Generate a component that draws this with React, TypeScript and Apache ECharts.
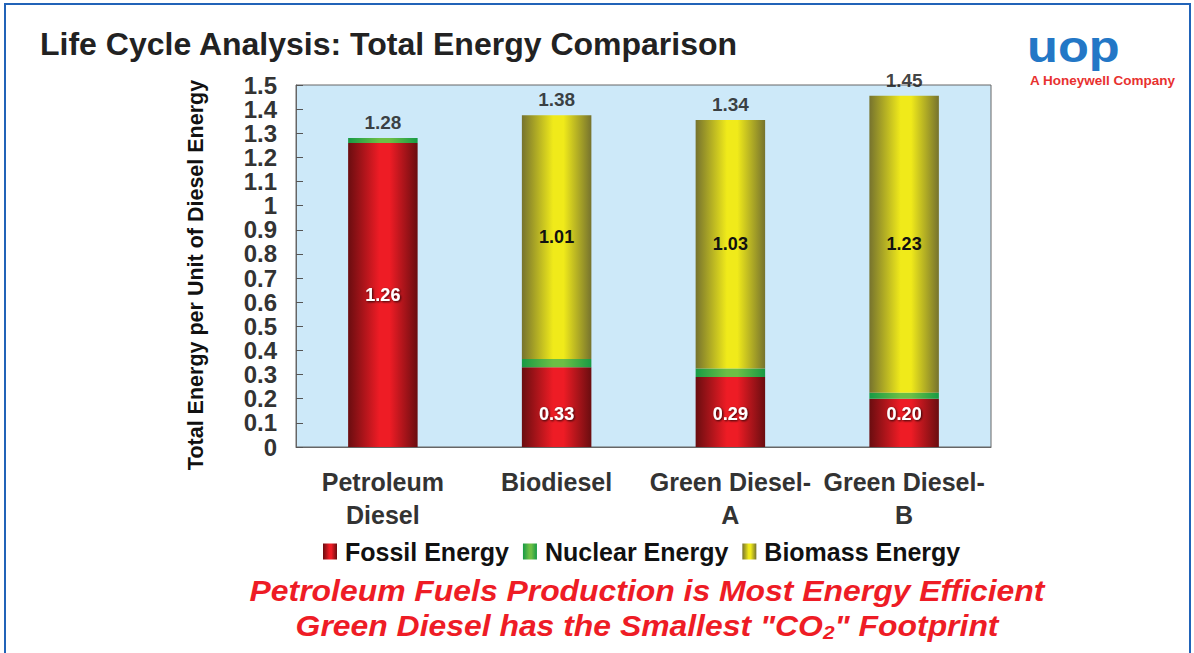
import React, { useEffect, useRef } from "react";
import * as echarts from "echarts";

const categories = ["Petroleum\nDiesel", "Biodiesel", "Green Diesel-\nA", "Green Diesel-\nB"];
const fossil = [1.26, 0.33, 0.29, 0.2];
const nuclear = [0.02, 0.035, 0.035, 0.025];
const biomass = [0, 1.01, 1.03, 1.23];
const totals = ["1.28", "1.38", "1.34", "1.45"];
const yTicks = { min: 0, max: 1.5, interval: 0.1 };
const yTitle = "Total Energy per Unit of Diesel Energy";

const FONT = "Liberation Sans, Arial, sans-serif";

function hGrad(edge: string, mid: string) {
  return new echarts.graphic.LinearGradient(0, 0, 1, 0, [
    { offset: 0, color: edge },
    { offset: 0.45, color: mid },
    { offset: 0.6, color: mid },
    { offset: 1, color: edge },
  ]);
}

export default function App() {
  const ref = useRef<HTMLDivElement>(null);
  useEffect(() => {
    if (!ref.current) return;
    const chart = echarts.init(ref.current, undefined, { renderer: "svg" });
    const stackTop = fossil.map((f, i) => f + nuclear[i] + biomass[i]);
    const option: any = {
      animation: false,
      textStyle: { fontFamily: FONT },
      grid: {
        left: 296,
        top: 85,
        width: 695,
        height: 362,
        show: true,
        backgroundColor: "#cde9f9",
        borderColor: "#666",
        borderWidth: 1,
      },
      legend: {
        left: 318,
        top: 534,
        itemWidth: 14,
        itemHeight: 16,
        itemGap: 14,
        icon: "rect",
        data: ["Fossil Energy", "Nuclear Energy", "Biomass Energy"],
        textStyle: { fontSize: 25, fontWeight: "bold", color: "#111", fontFamily: FONT, padding: [0, 0, 0, 3] },
      },
      xAxis: {
        type: "category",
        data: categories,
        axisLine: { show: true, lineStyle: { color: "#666" } },
        axisTick: { show: false },
        axisLabel: {
          interval: 0,
          fontSize: 25,
          fontWeight: "bold",
          color: "#333",
          lineHeight: 33,
          margin: 18,
          fontFamily: FONT,
        },
      },
      yAxis: {
        type: "value",
        min: yTicks.min,
        max: yTicks.max,
        interval: yTicks.interval,
        axisLine: { show: true, lineStyle: { color: "#666" } },
        axisTick: { show: true, inside: true, length: 7, lineStyle: { color: "#555" } },
        splitLine: { show: false },
        axisLabel: {
          fontSize: 24,
          lineHeight: 20,
          fontWeight: "bold",
          color: "#333",
          margin: 19,
          fontFamily: FONT,
        },
      },
      series: [
        {
          name: "Fossil Energy",
          type: "bar",
          stack: "e",
          barWidth: "40%",
          itemStyle: { color: hGrad("#6a0d10", "#ee1c25") },
          data: fossil.map((v, i) => ({
            value: v,
            label:
              i === 0
                ? { position: "inside" }
                : { position: "insideBottom", distance: 24 },
          })),
          label: {
            show: true,
            formatter: (p: any) => Number(p.value).toFixed(2),
            color: "#fff",
            fontSize: 18,
            fontWeight: "bold",
            fontFamily: FONT,
            textShadowColor: "rgba(0,0,0,0.8)",
            textShadowBlur: 2,
            textShadowOffsetX: 1,
            textShadowOffsetY: 1,
          },
        },
        {
          name: "Nuclear Energy",
          type: "bar",
          stack: "e",
          barWidth: "40%",
          itemStyle: { color: hGrad("#179a45", "#6cbf45") },
          data: nuclear,
        },
        {
          name: "Biomass Energy",
          type: "bar",
          stack: "e",
          barWidth: "40%",
          itemStyle: { color: hGrad("#76732e", "#f0ea1a") },
          data: biomass,
          label: {
            show: true,
            position: "inside",
            formatter: (p: any) => (p.value > 0 ? Number(p.value).toFixed(2) : ""),
            color: "#111",
            fontSize: 18,
            fontWeight: "bold",
            fontFamily: FONT,
          },
        },
        {
          name: "Total",
          type: "scatter",
          symbolSize: 0,
          data: stackTop,
          label: {
            show: true,
            position: "top",
            distance: 6,
            formatter: (p: any) => totals[p.dataIndex],
            color: "#111",
            fontSize: 19,
            fontWeight: "bold",
            fontFamily: FONT,
          },
        },
      ],
      graphic: [
        {
          type: "rect",
          silent: true,
          shape: { x: 5, y: 4, width: 1185, height: 660 },
          style: { fill: "none", stroke: "#2163b8", lineWidth: 2 },
        },
        {
          type: "text",
          x: 196,
          y: 275,
          rotation: Math.PI / 2,
          style: {
            text: yTitle,
            fontSize: 21.5,
            fontWeight: "bold",
            fill: "#111",
            fontFamily: FONT,
            align: "center",
            verticalAlign: "middle",
          },
        },
        {
          type: "text",
          left: 40,
          top: 28,
          style: {
            text: "Life Cycle Analysis: Total Energy Comparison",
            fontSize: 32,
            fontWeight: "bold",
            fill: "#222",
            fontFamily: FONT,
          },
        },
        {
          type: "text",
          x: 1027,
          y: 25,
          scaleX: 1.15,
          style: {
            text: "uop",
            fontSize: 44,
            fontWeight: "bold",
            fill: "#2377c6",
            fontFamily: FONT,
          },
        },
        {
          type: "text",
          x: 1030,
          y: 73,
          style: {
            text: "A Honeywell Company",
            fontSize: 13.5,
            fontWeight: "bold",
            fill: "#e8312f",
            fontFamily: FONT,
          },
        },
        {
          type: "text",
          x: 647,
          y: 591,
          scaleX: 1.1,
          style: {
            text: "Petroleum Fuels Production is Most Energy Efficient",
            fontSize: 29,
            fontWeight: "bold",
            fontStyle: "italic",
            fill: "#ee1c25",
            fontFamily: FONT,
            align: "center",
            verticalAlign: "middle",
          },
        },
        {
          type: "text",
          x: 647,
          y: 626,
          scaleX: 1.1,
          style: {
            text: 'Green Diesel has the Smallest "CO{sub|2}" Footprint',
            fontSize: 29,
            fontWeight: "bold",
            fontStyle: "italic",
            fill: "#ee1c25",
            fontFamily: FONT,
            align: "center",
            verticalAlign: "middle",
            rich: {
              sub: {
                fontSize: 19,
                fontWeight: "bold",
                fontStyle: "italic",
                fill: "#ee1c25",
                fontFamily: FONT,
                padding: [12, 0, 0, 0],
              },
            },
          },
        },
      ],
    };
    chart.setOption(option);
    return () => chart.dispose();
  }, []);
  return (
    <div
      ref={ref}
      style={{ position: "absolute", left: 0, top: 0, width: 1194, height: 653, background: "#fff" }}
    />
  );
}
